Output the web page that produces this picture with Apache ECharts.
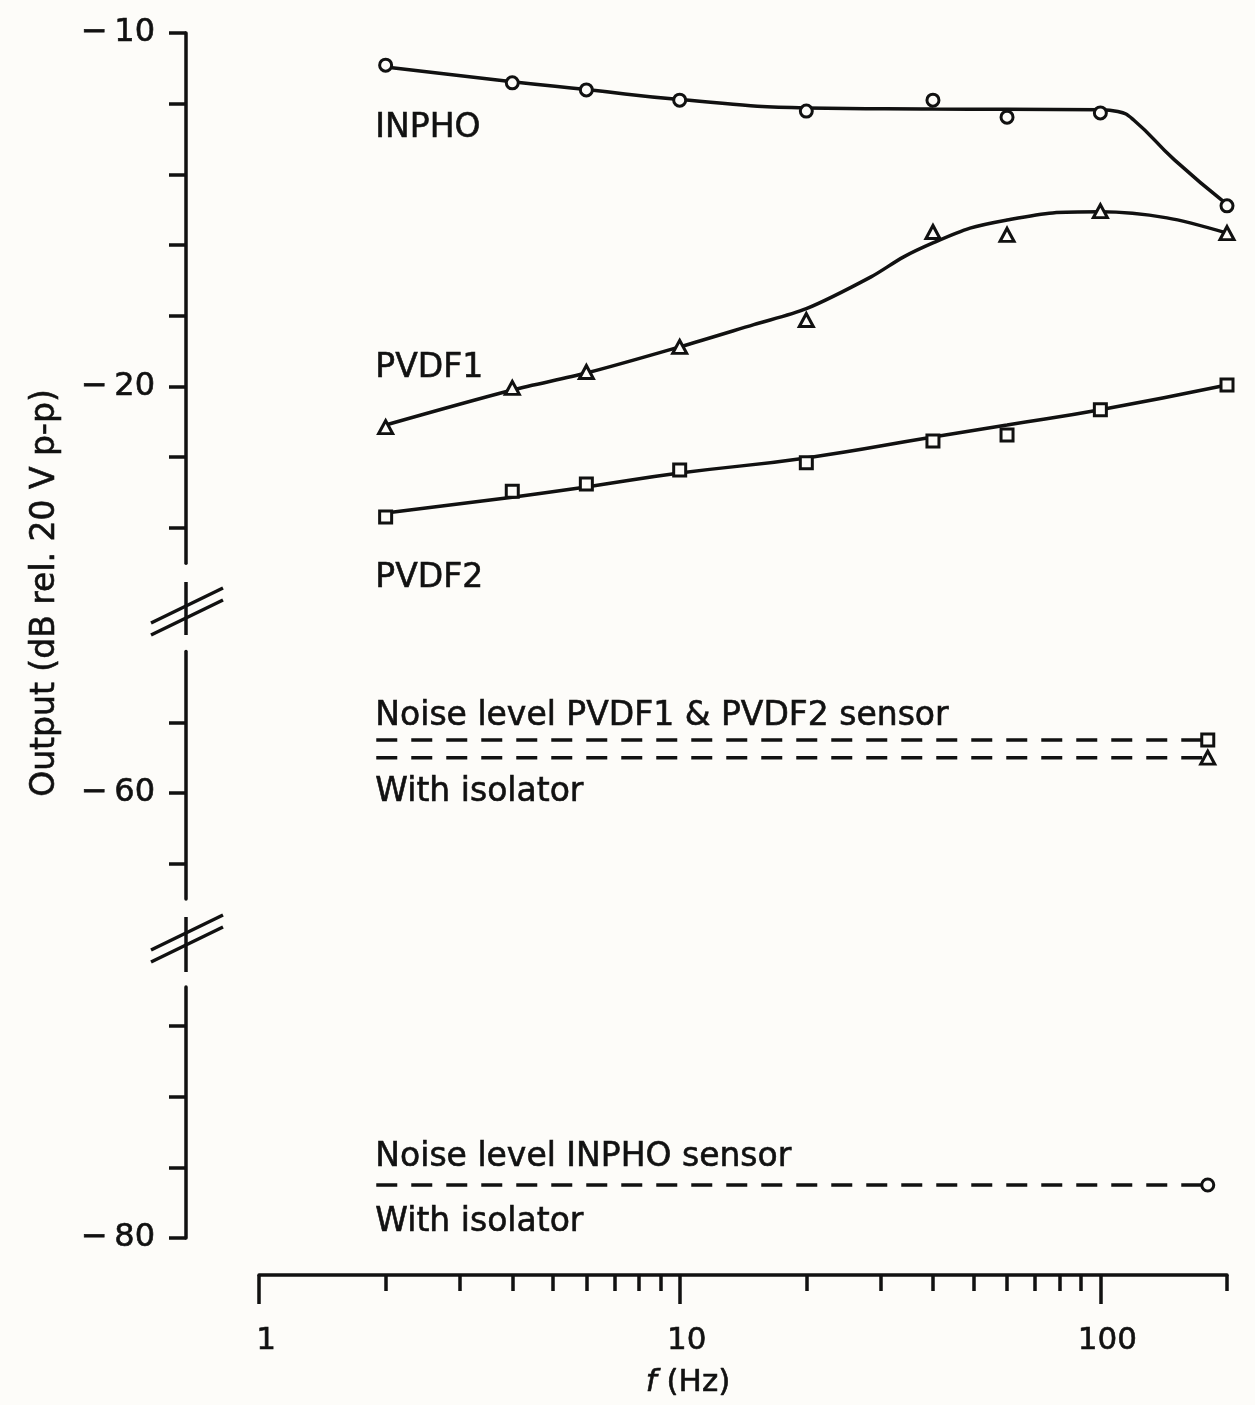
<!DOCTYPE html>
<html>
<head>
<meta charset="utf-8">
<script src="https://cdn.jsdelivr.net/npm/echarts@6/dist/echarts.min.js"></script>
<style>
  html, body { margin: 0; padding: 0; background: #fdfcf9; }
  #chart { width: 1255px; height: 1405px; }
</style>
</head>
<body>
<div id="chart"></div>
<script>
// measured frequencies (Hz)
const freqs = [2, 4, 6, 10, 20, 40, 60, 100, 200];

// measured output, dB rel. 20 V p-p
const inphoPts = [-10.91, -11.41, -11.61, -11.90, -12.21, -11.90, -12.38, -12.26, -14.89];
const pvdf1Pts = [-21.15, -20.04, -19.59, -18.88, -18.12, -15.63, -15.71, -15.04, -15.66];
const pvdf2Pts = [-23.69, -22.96, -22.76, -22.36, -22.16, -21.54, -21.37, -20.66, -19.96];

// fitted curves as drawn, [f, dB]
const inphoCurve = [[2, -10.96], [4, -11.38], [6, -11.6], [10, -11.88], [20, -12.12], [40, -12.15], [60, -12.16], [100, -12.17], [110, -12.22], [120, -12.46], [150, -13.59], [200, -14.85]];
const pvdf1Curve = [[2, -21.09], [4, -20.1], [6, -19.62], [10, -18.88], [15, -18.25], [20, -17.8], [28.5, -16.9], [34, -16.34], [40, -15.94], [49, -15.52], [60, -15.29], [77, -15.09], [100, -15.06], [144, -15.23], [200, -15.66]];
const pvdf2Curve = [[2, -23.58], [4, -23.13], [6, -22.84], [10, -22.45], [20, -22.02], [40, -21.43], [60, -21.09], [100, -20.66], [200, -19.96]];

// noise floors (dashed lines), frequency span and level
const noiseSpan = [1.9, 180];
const noisePvdf = -58.5;     // PVDF1 & PVDF2 sensor
const noisePvdfIso = -59;    // with isolator
const noiseInpho = -78.5;    // INPHO sensor

// axis ticks
const xMajor = [1, 10, 100];
const xMinor = [2, 3, 4, 5, 6, 7, 8, 9, 20, 30, 40, 50, 60, 70, 80, 90, 200];
const yTicksTop = [-10, -12, -14, -16, -18, -20, -22, -24];
const yLabelsTop = [-10, -20];
const yTicksMid = [-58, -60, -62];
const yLabelsMid = [-60];
const yTicksBot = [-74, -76, -78, -80];
const yLabelsBot = [-80];

// text notes: [text, segment, f, dB]
const notes = [
  ['INPHO', 0, 1.89, -12.69],
  ['PVDF1', 0, 1.89, -19.48],
  ['PVDF2', 0, 1.89, -25.42],
  ['Noise level PVDF1 & PVDF2 sensor', 1, 1.89, -57.82],
  ['With isolator', 1, 1.89, -59.97],
  ['Noise level INPHO sensor', 2, 1.89, -77.71],
  ['With isolator', 2, 1.89, -79.55]
];

// ---- layout ----
const INK = '#111111';
const BG = '#fdfcf9';
const FONT = '"DejaVu Sans", sans-serif';
const PX_PER_DB = 35.35;
const GRID_LEFT = 259;
const GRID_W = 968;
const AXIS_X = 186;
const LW = 3.5;

// broken y axis: three segments
const segs = [
  { min: -25, max: -10, top: 33, ticks: yTicksTop, labels: yLabelsTop },
  { min: -63, max: -56, top: 793 - 4 * PX_PER_DB, ticks: yTicksMid, labels: yLabelsMid },
  { min: -80, max: -72.9, top: 1238 - 7.1 * PX_PER_DB, ticks: yTicksBot, labels: yLabelsBot }
];

const grids = segs.map(s => ({
  left: GRID_LEFT,
  width: GRID_W,
  top: s.top,
  height: (s.max - s.min) * PX_PER_DB,
  outerBoundsMode: 'none'
}));

const textBold = { textBorderColor: INK, textBorderWidth: 0.6 };

const yAxes = segs.map((s, i) => ({
  type: 'value',
  gridIndex: i,
  min: s.min,
  max: s.max,
  position: 'left',
  offset: GRID_LEFT - AXIS_X,
  axisLine: { show: true, onZero: false, lineStyle: { color: INK, width: LW } },
  axisTick: { show: true, inside: false, length: 17, customValues: s.ticks, lineStyle: { color: INK, width: LW } },
  axisLabel: Object.assign({
    show: true, customValues: s.labels, margin: 31,
    color: INK, fontSize: 32, fontFamily: FONT,
    formatter: v => '\u2212\u2009' + Math.abs(v)
  }, textBold),
  splitLine: { show: false }
}));

const logBase = { type: 'log', logBase: 10, min: 1, max: 200 };
const xAxes = [
  Object.assign({}, logBase, { gridIndex: 0, show: false }),
  Object.assign({}, logBase, { gridIndex: 1, show: false }),
  // bottom axis line with short ticks
  Object.assign({}, logBase, {
    gridIndex: 2, position: 'bottom', offset: 37,
    axisLine: { show: true, onZero: false, lineStyle: { color: INK, width: LW } },
    axisTick: { show: true, length: 16, customValues: xMinor, lineStyle: { color: INK, width: LW } },
    axisLabel: { show: false },
    splitLine: { show: false }
  }),
  // long ticks, labels and name
  Object.assign({}, logBase, {
    gridIndex: 2, position: 'bottom', offset: 37,
    axisLine: { show: false, onZero: false },
    axisTick: { show: true, length: 29, customValues: xMajor, lineStyle: { color: INK, width: LW } },
    axisLabel: Object.assign({
      show: true, customValues: xMajor, margin: 50,
      color: INK, fontSize: 31, fontFamily: FONT,
      padding: [0, 0, 0, 14],
      formatter: v => String(v)
    }, textBold),
    splitLine: { show: false },
    name: '{i|f} (Hz)',
    nameLocation: 'middle',
    nameGap: 92,
    nameTextStyle: Object.assign({
      color: INK, fontSize: 31, fontFamily: FONT,
      padding: [0, 110, 0, 0],
      rich: { i: Object.assign({ fontStyle: 'italic', color: INK, fontSize: 31, fontFamily: FONT }, textBold) }
    }, textBold)
  })
];

const pts = ys => freqs.map((f, i) => [f, ys[i]]);

function curve(data, smooth) {
  return {
    type: 'line', xAxisIndex: 0, yAxisIndex: 0, data: data,
    smooth: smooth, symbol: 'none', silent: true,
    lineStyle: { color: INK, width: LW }
  };
}

function markers(data, symbol, size, xi, yi) {
  return {
    type: 'scatter', xAxisIndex: xi, yAxisIndex: yi, data: data,
    symbol: symbol, symbolSize: size, z: 4, silent: true,
    itemStyle: { color: BG, borderColor: INK, borderWidth: 3, opacity: 1 }
  };
}

function noiseLine(level, xi, yi) {
  return {
    type: 'line', xAxisIndex: xi, yAxisIndex: yi,
    data: noiseSpan.map(f => [f, level]),
    symbol: 'none', silent: true,
    lineStyle: { color: INK, width: LW, type: [21, 14] }
  };
}

function noteSeries(seg) {
  return {
    type: 'scatter', xAxisIndex: seg, yAxisIndex: seg, clip: false, silent: true,
    symbolSize: 0.1, itemStyle: { color: BG, opacity: 1 },
    data: notes.filter(n => n[1] === seg).map(n => ({ name: n[0], value: [n[2], n[3]] })),
    label: Object.assign({
      show: true, position: 'right', distance: 0, formatter: '{b}',
      color: INK, fontSize: 33, fontFamily: FONT, opacity: 1
    }, textBold),
    labelLayout: { hideOverlap: false }
  };
}

const endF = noiseSpan[1];

const series = [
  curve(inphoCurve, 0.5),
  curve(pvdf1Curve, 0.3),
  curve(pvdf2Curve, 0.5),
  markers(pts(inphoPts), 'circle', 12, 0, 0),
  markers(pts(pvdf1Pts), 'triangle', [14, 13], 0, 0),
  markers(pts(pvdf2Pts), 'rect', 12, 0, 0),
  noiseLine(noisePvdf, 1, 1),
  noiseLine(noisePvdfIso, 1, 1),
  markers([[endF, noisePvdf]], 'rect', 12, 1, 1),
  markers([[endF, noisePvdfIso]], 'triangle', [14, 13], 1, 1),
  noiseLine(noiseInpho, 2, 2),
  markers([[endF, noiseInpho]], 'circle', 12, 2, 2),
  noteSeries(0),
  noteSeries(1),
  noteSeries(2)
];

// axis break marks between the segments
function breakMark(yTop, yBottom, ySlash) {
  const ls = { stroke: INK, lineWidth: LW };
  return [
    { type: 'line', shape: { x1: AXIS_X, y1: yTop, x2: AXIS_X, y2: yBottom }, style: ls },
    { type: 'line', shape: { x1: 151, y1: ySlash, x2: 223, y2: ySlash - 35 }, style: ls },
    { type: 'line', shape: { x1: 151, y1: ySlash + 12, x2: 223, y2: ySlash - 23 }, style: ls }
  ];
}

const chart = echarts.init(document.getElementById('chart'), null, { renderer: 'canvas' });
chart.setOption({
  backgroundColor: BG,
  animation: false,
  grid: grids,
  xAxis: xAxes,
  yAxis: yAxes,
  series: series,
  graphic: [].concat(
    breakMark(582, 635, 623),
    breakMark(917, 972, 950),
    [{
      type: 'text', x: 45, y: 593, rotation: Math.PI / 2,
      style: Object.assign({
        text: 'Output (dB rel. 20 V p-p)', fill: INK,
        font: '33px ' + FONT, align: 'center', verticalAlign: 'middle',
        stroke: INK, lineWidth: 0.6
      })
    }]
  )
});
</script>
</body>
</html>
